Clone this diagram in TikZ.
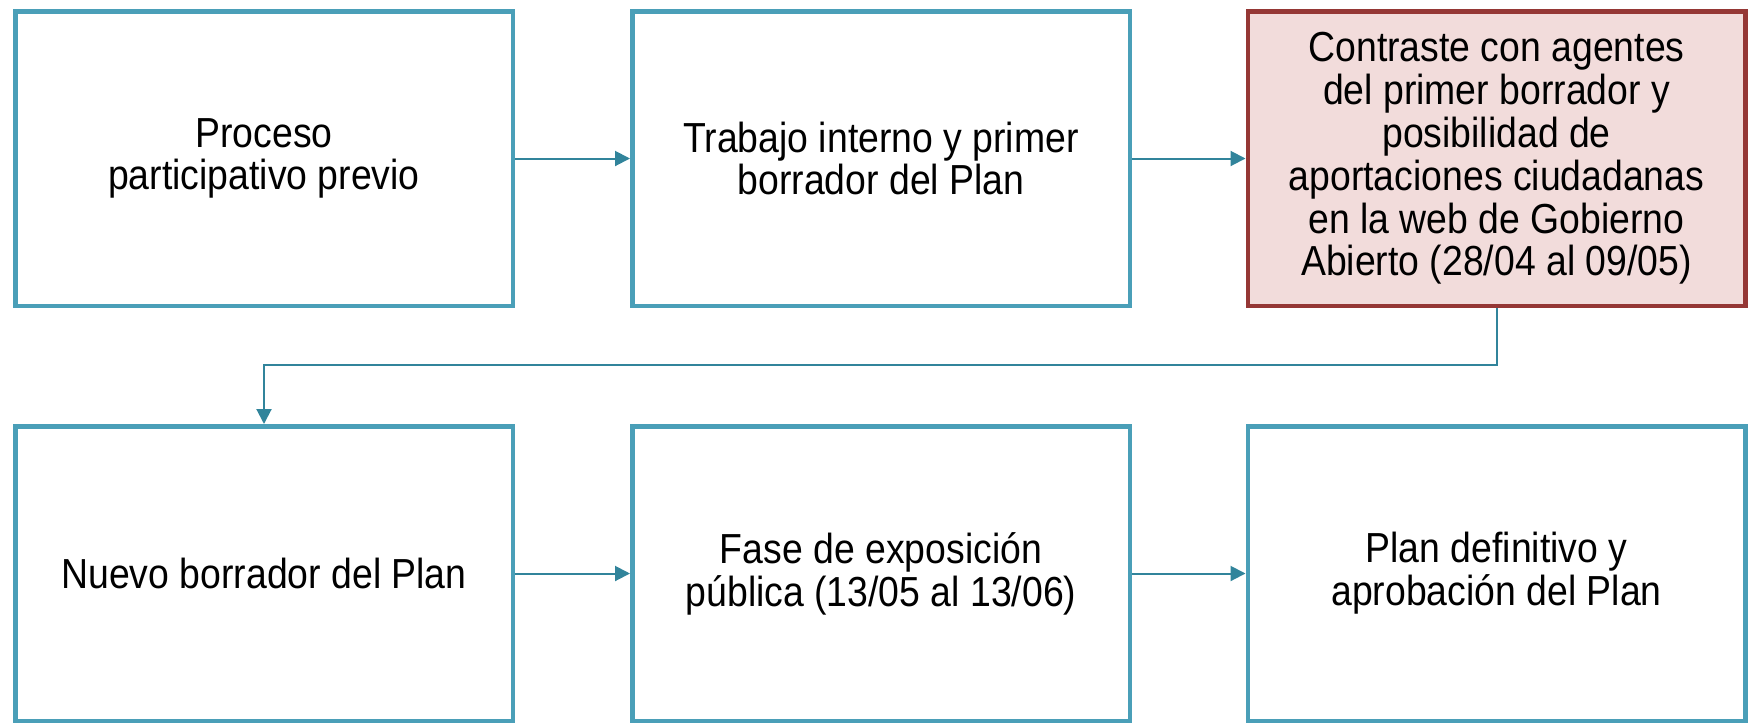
\documentclass[tikz,border=0pt]{standalone}
\usepackage{fontspec}
\setmainfont[FakeStretch=0.89]{Liberation Sans}
\usetikzlibrary{arrows.meta}
\definecolor{boxline}{HTML}{4A9FB8}
\definecolor{linkline}{HTML}{31849B}
\definecolor{hotline}{HTML}{953735}
\definecolor{hotfill}{HTML}{F2DCDB}

\begin{document}
\begin{tikzpicture}[x=0.5pt,y=-0.5pt]
\tikzstyle{every node}+=[inner sep=0pt]
\tikzstyle{stage}=[draw=boxline, line width=2.25pt, fill=white, minimum width=248.75pt, minimum height=147.25pt, align=center, font=\fontsize{21}{21.4}\selectfont]
\tikzstyle{hot}=[draw=hotline, fill=hotfill]
\tikzstyle{link}=[draw=linkline, line width=1pt, -{Triangle[length=7.5pt,width=7.5pt]}]
\useasboundingbox (0,0) rectangle (1749,724);
\node [stage] (b1) at (264,158.5) {Proceso\\participativo previo};
\node [stage] (b2) at (881,158.5) {Trabajo interno y primer\\borrador del Plan};
\node [stage,hot] (b3) at (1496.5,158.5) {Contraste con agentes\\del primer borrador y\\posibilidad de\\aportaciones ciudadanas\\en la web de Gobierno\\Abierto (28/04 al 09/05)};
\node [stage] (b4) at (264,573.5) {Nuevo borrador del Plan};
\node [stage] (b5) at (881,573.5) {Fase de exposición\\pública (13/05 al 13/06)};
\node [stage] (b6) at (1496.5,573.5) {Plan definitivo y\\aprobación del Plan};
\coordinate (turn) at (264,365);
\draw [link] (b1) -- (b2);
\draw [link] (b2) -- (b3);
\draw [link] (b3.south) |- (turn) -- (b4.north);
\draw [link] (b4) -- (b5);
\draw [link] (b5) -- (b6);
\end{tikzpicture}
\end{document}
